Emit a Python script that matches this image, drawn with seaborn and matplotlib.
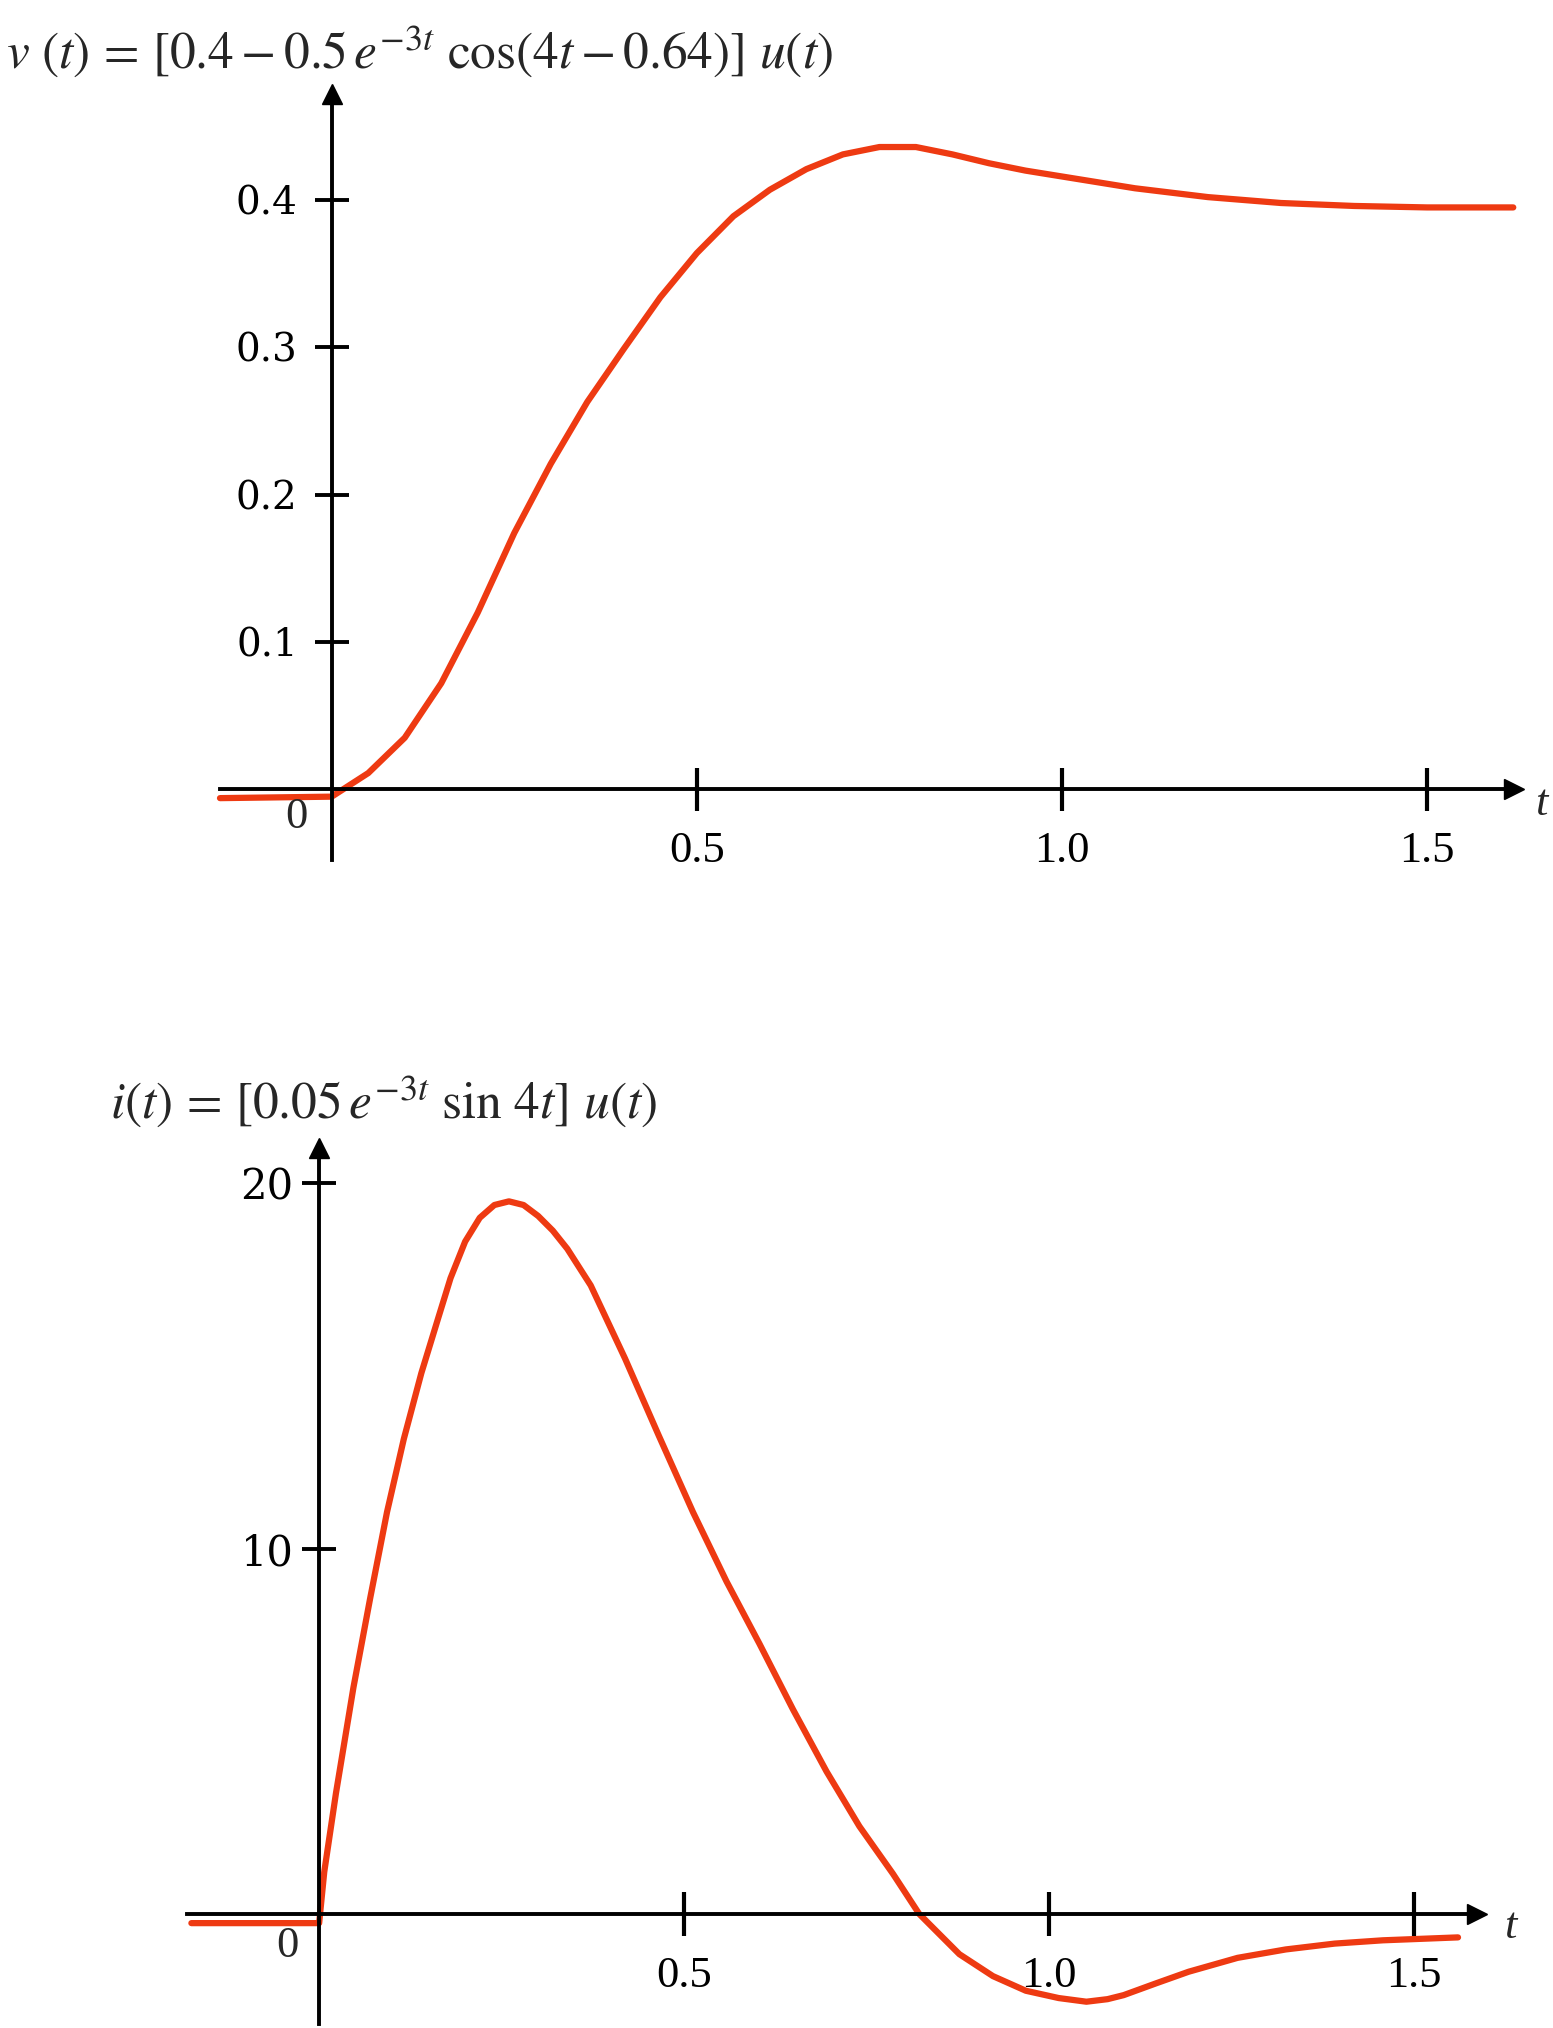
import matplotlib
matplotlib.use("Agg")
import matplotlib.pyplot as plt
import seaborn as sns

# -------- values --------
# top panel: v(t)
t_v = [-0.153, 0.0, 0.05, 0.1, 0.15, 0.2, 0.25, 0.3, 0.35, 0.4, 0.45, 0.5,
       0.55, 0.6, 0.65, 0.7, 0.75, 0.8, 0.85, 0.9, 0.95, 1.0, 1.05, 1.1,
       1.2, 1.3, 1.4, 1.5, 1.618]
v_vals = [-0.006, -0.005, 0.011, 0.035, 0.072, 0.120, 0.174, 0.221, 0.263, 0.299, 0.334, 0.364,
          0.389, 0.407, 0.421, 0.431, 0.436, 0.436, 0.431, 0.425, 0.420, 0.416, 0.412, 0.408,
          0.402, 0.398, 0.396, 0.395, 0.395]

# bottom panel: i(t)
t_i = [-0.175, 0.0, 0.007, 0.023, 0.047, 0.07, 0.093, 0.116, 0.14, 0.163, 0.18,
       0.2, 0.22, 0.24, 0.26, 0.28, 0.3, 0.32, 0.34, 0.372, 0.419, 0.465, 0.512,
       0.558, 0.603, 0.649, 0.695, 0.74, 0.786, 0.822, 0.877, 0.923, 0.968,
       1.013, 1.051, 1.08, 1.102, 1.146, 1.191, 1.258, 1.324, 1.391, 1.457, 1.56]
i_vals = [-0.25, -0.25, 1.15, 3.3, 6.2, 8.65, 11.0, 13.0, 14.8, 16.3, 17.4,
          18.4, 19.05, 19.4, 19.5, 19.4, 19.1, 18.7, 18.2, 17.2, 15.2, 13.1, 11.0,
          9.1, 7.4, 5.6, 3.9, 2.4, 1.1, 0.0, -1.1, -1.7, -2.1,
          -2.3, -2.4, -2.33, -2.22, -1.9, -1.58, -1.2, -0.97, -0.81, -0.72, -0.64]

t_ticks = [0.5, 1.0, 1.5]
t_tick_labels = ["0.5", "1.0", "1.5"]
v_ticks = [0.1, 0.2, 0.3, 0.4]
v_tick_labels = ["0.1", "0.2", "0.3", "0.4"]
i_ticks = [10, 20]
i_tick_labels = ["10", "20"]

RED = "#ee3a12"

sns.set_style("white")
plt.rcParams["font.family"] = ["Liberation Serif", "DejaVu Serif"]
plt.rcParams["mathtext.fontset"] = "stix"


def draw_panel(ax, t, y, yticks, ylabels, xlim, ylim, ysize, ypad, tick_half,
               zero_xy, t_xy):
    """one curve on arrow-style axes through the origin"""
    sns.lineplot(x=t, y=y, ax=ax, color=RED, linewidth=4.5, sort=False,
                 clip_on=False, zorder=1, solid_joinstyle="round")
    ax.set_xlim(xlim)
    ax.set_ylim(ylim)
    ax.set_xlabel("")
    ax.set_ylabel("")
    ax.patch.set_alpha(0)
    for side in ["top", "right"]:
        ax.spines[side].set_visible(False)
    for side in ["left", "bottom"]:
        ax.spines[side].set_position(("data", 0))
        ax.spines[side].set_linewidth(2.8)
        ax.spines[side].set_color("black")
        ax.spines[side].set_zorder(3)
    ax.set_xticks(t_ticks, t_tick_labels)
    ax.set_yticks(yticks, ylabels)
    # x tick marks crossing the axis line
    ax.vlines(t_ticks, -tick_half, tick_half, color="black", linewidth=3.0,
              clip_on=False, zorder=4)
    ax.tick_params(axis="x", bottom=True, length=0, pad=30,
                   labelsize=32, colors="black")
    ax.tick_params(axis="y", left=True, direction="inout", length=25, width=2.8,
                   pad=ypad, labelsize=ysize, colors="black")
    for lab in ax.get_yticklabels():
        lab.set_fontfamily("DejaVu Serif")
    # arrow heads
    ax.plot(1, 0, ">", color="black", markersize=15,
            transform=ax.get_yaxis_transform(), clip_on=False, zorder=4)
    ax.plot(0, 1, "^", color="black", markersize=15,
            transform=ax.get_xaxis_transform(), clip_on=False, zorder=4)
    ax.text(zero_xy[0], zero_xy[1], "0", fontsize=32, ha="center", va="center")
    ax.text(t_xy[0], t_xy[1], "t", fontsize=32, style="italic",
            ha="center", va="center")


W, H = 1553, 2028
fig = plt.figure(figsize=(W / 100, H / 100), dpi=100)

ax1 = fig.add_axes([220 / W, 1 - 860 / H, 1294 / W, 766 / H])
draw_panel(ax1, t_v, v_vals, v_ticks, v_tick_labels,
           (-0.153, 1.619), (-0.048, 0.472), 28, 12, 0.0146,
           (-0.049, -0.019), (1.656, -0.010))

ax2 = fig.add_axes([187 / W, 1 - 2024 / H, 1290 / W, 876 / H])
draw_panel(ax2, t_i, i_vals, i_ticks, i_tick_labels,
           (-0.181, 1.586), (-3.01, 20.96), 30, 6, 0.59,
           (-0.044, -0.875), (1.632, -0.36))

fig.text(6 / W, 1 - 52 / H,
         r"$v\ (t)\,=\,[0.4 - 0.5\,e^{-3t}\ \cos(4t - 0.64)]\ u(t)$",
         fontsize=37, ha="left", va="center")
fig.text(110 / W, 1 - 1102 / H,
         r"$i(t)\,=\,[0.05\,e^{-3t}\ \sin\,4t]\ u(t)$",
         fontsize=37, ha="left", va="center")

plt.savefig("out.png", dpi=100)
